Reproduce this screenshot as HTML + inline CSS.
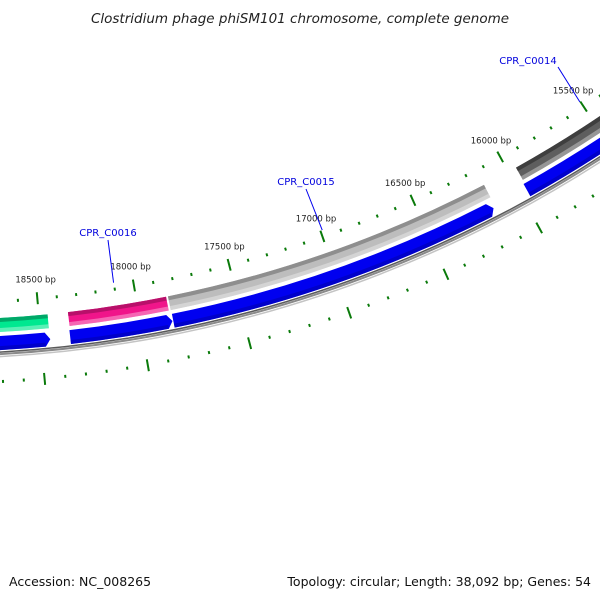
<!DOCTYPE html>
<html><head><meta charset="utf-8"><style>
html,body{margin:0;padding:0;background:#fff}
svg{display:block}
text{font-family:"DejaVu Sans","Liberation Sans",sans-serif}
</style></head><body>
<svg id="map" width="600" height="600" viewBox="0 0 600 600" xmlns="http://www.w3.org/2000/svg">
<text x="300" y="23" text-anchor="middle" font-size="13.5" font-style="italic" fill="#222">Clostridium phage phiSM101 chromosome, complete genome</text>
<g id="plot"></g>
<text x="9" y="586" font-size="12.5" fill="#111">Accession: NC_008265</text>
<text x="591" y="586" text-anchor="end" font-size="12.5" fill="#111">Topology: circular; Length: 38,092 bp; Genes: 54</text>
</svg>
<script>
const genomeLength = 38092;
const fwdStart = [18456, 17850, 16140, 15050];
const fwdEnd   = [19400, 18352, 17840, 15956];
const fwdColor = ["#00e890", "#f0158a", "#bdbdbd", "#5e5e5e"];
const fwdEdge  = ["#00a868", "#b8106a", "#8e8e8e", "#3e3e3e"];
const fwdName  = ["fwd-gene-green", "gene-cpr-c0016", "gene-cpr-c0015", "gene-cpr-c0014"];
const revStart = [18454, 17842, 16151, 14900];
const revEnd   = [19400, 18355, 17838, 15963];
const tickLabels = ["15500 bp","16000 bp","16500 bp","17000 bp","17500 bp","18000 bp","18500 bp"];
const tickValues = [15500,16000,16500,17000,17500,18000,18500];
const geneLabels = ["CPR_C0016","CPR_C0015","CPR_C0014"];
const geneLabelBp = [18101, 16990, 15503];

const cx=-69, cy=-879;
const NS="http://www.w3.org/2000/svg";
const plot=document.getElementById('plot');
function ang(bp){return bp/genomeLength*2*Math.PI;}
function pt(r,bp){const t=ang(bp);return [cx+r*Math.sin(t), cy-r*Math.cos(t)];}
function f(p){return p[0].toFixed(2)+","+p[1].toFixed(2);}
function mk(tag,attrs,name){const e=document.createElementNS(NS,tag);for(const k in attrs)e.setAttribute(k,attrs[k]);


plot.appendChild(e);return e;}
function band(r1,r2,a,b){const R=Math.max(r1,r2)+2;
return "M"+f(pt(r1,a))+" A"+r1+","+r1+" 0 0 1 "+f(pt(r1,b))+" L"+f(pt(r2,b))+" A"+r2+","+r2+" 0 0 0 "+f(pt(r2,a))+" Z";}

// backbone
mk('circle',{cx:cx,cy:cy,r:1233,fill:'none',stroke:'#5a5a5a','stroke-width':1.5},'backbone-inner-edge');
mk('circle',{cx:cx,cy:cy,r:1235,fill:'none',stroke:'#8a8a8a','stroke-width':2},'backbone');
mk('circle',{cx:cx,cy:cy,r:1237.5,fill:'none',stroke:'#c4c4c4','stroke-width':1.5},'backbone-outer-edge');

// ticks inner ring and outer ring
for(let bp=14000;bp<=20000;bp+=100){
  const major=bp%500===0;
  let a=pt(major?1176:1181,bp), b=pt(major?1188:1184,bp);
  mk('line',{x1:a[0],y1:a[1],x2:b[0],y2:b[1],stroke:'#0a7a0a','stroke-width':2},major?'inner-major-tick':'inner-minor-tick');
  a=pt(major?1257:1261,bp); b=pt(major?1269:1264,bp);
  mk('line',{x1:a[0],y1:a[1],x2:b[0],y2:b[1],stroke:'#0a7a0a','stroke-width':2},major?'outer-major-tick':'outer-minor-tick');
}
tickValues.forEach((v,i)=>{const p=pt(1163,v);
 const t=mk('text',{x:p[0],y:p[1]+3,'text-anchor':'middle','font-size':'8.5',fill:'#222'},'tick-label');t.textContent=tickLabels[i];});

// forward genes
fwdStart.forEach((s,i)=>{const e=fwdEnd[i];
 mk('path',{d:band(1199,1213,s,e),fill:fwdColor[i]},fwdName[i]);
 mk('path',{d:band(1199,1203,s,e),fill:fwdEdge[i]},fwdName[i]+'-edge');
 mk('path',{d:band(1209,1213,s,e),fill:'#ffffff','fill-opacity':0.35},fwdName[i]+'-highlight');
});
// reverse genes with arrowheads at lower-bp end
revStart.forEach((s,i)=>{const e=revEnd[i];const r1=1217,r2=1231,rm=1224,al=25;
 const d="M"+f(pt(r1,s+al))+" A"+r1+","+r1+" 0 0 1 "+f(pt(r1,e))+" L"+f(pt(r2,e))+" A"+r2+","+r2+" 0 0 0 "+f(pt(r2,s+al))+" L"+f(pt(rm,s))+" Z";
 mk('path',{d:d,fill:'#0000f0'},'reverse-gene');
 mk('path',{d:band(1227,1231,s+al,e),fill:'#0000b0','fill-opacity':0.6},'reverse-gene-shade');
});
// gene labels
const lblPos=[[108,236],[306,185],[528,64]];
geneLabelBp.forEach((bp,i)=>{const a=pt(1176,bp);
 const b=i===2?[558,67]:[lblPos[i][0],lblPos[i][1]+4];
 mk('line',{x1:a[0],y1:a[1],x2:b[0],y2:b[1],stroke:'#0000ee','stroke-width':1},'gene-label-leader');
 const t=mk('text',{x:lblPos[i][0],y:lblPos[i][1],'text-anchor':'middle','font-size':'10',fill:'#0000dd'},'gene-label');t.textContent=geneLabels[i];});
</script>
</body></html>
